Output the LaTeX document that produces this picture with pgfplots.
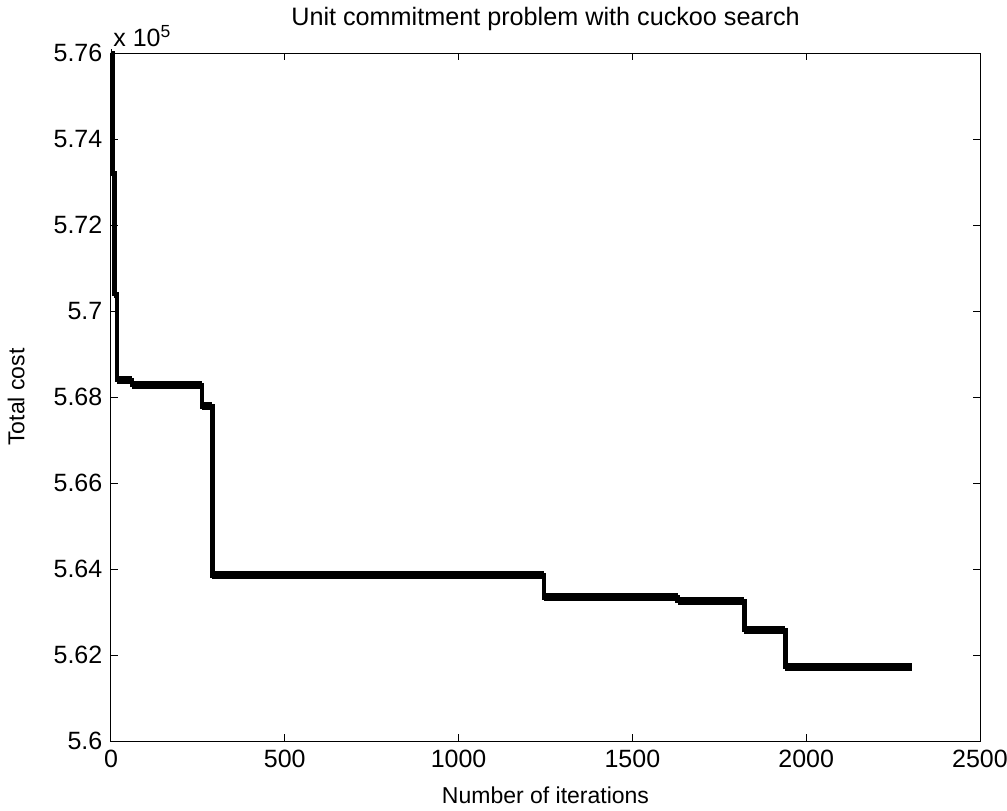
\documentclass[border=0pt]{standalone}
\usepackage{pgfplots}
\pgfplotsset{compat=1.18}
\usepackage{fontspec}
\setmainfont{Liberation Sans}

% step data, cost in units of 1e5
\pgfplotstableread{
it   cost
0    5.7600
4    5.7320
10   5.7040
18   5.6840
60   5.6828
262  5.6778
292  5.6385
1245 5.6334
1630 5.6325
1822 5.6258
1940 5.6172
2305 5.6172
}\costdata

\begin{document}
\fontsize{12.5}{14}\selectfont
\begin{tikzpicture}
\path[use as bounding box] (-55.5pt,-34.5pt) rectangle (448pt,370.5pt);
\begin{axis}[
  at={(0,0)}, anchor=south west,
  scale only axis, width=434.5pt, height=344pt,
  xmin=0, xmax=2500, ymin=5.6, ymax=5.76,
  xtick={0,500,...,2500},
  ytick={5.6,5.62,...,5.761},
  xticklabel style={/pgf/number format/1000 sep={}},
  yticklabel style={/pgf/number format/fixed, /pgf/number format/precision=2},
  /pgf/number format/assume math mode=true,
  tick label style={font=\fontsize{12.5}{14}\selectfont},
  tick align=inside, major tick length=3.5pt,
  tick style={black, line width=0.5pt},
  axis line style={line width=0.5pt},
  xlabel={Number of iterations},
  ylabel={Total cost},
  label style={font=\fontsize{11.5}{13}\selectfont},
  xlabel style={yshift=-1pt},
  ylabel style={yshift=6pt},
  title={Unit commitment problem with cuckoo search},
  title style={font=\fontsize{12.6}{14}\selectfont, yshift=1pt},
  clip=false,
]
\addplot[black, line width=2.2pt, const plot] table[x=it, y=cost] {\costdata};
\addplot[black, line width=4pt, jump mark left] table[x=it, y=cost] {\costdata};
\node[anchor=south west, inner sep=0pt] at ([xshift=1pt, yshift=3pt]rel axis cs:0,1) {x 10\textsuperscript{5}};
\end{axis}
\end{tikzpicture}
\end{document}
